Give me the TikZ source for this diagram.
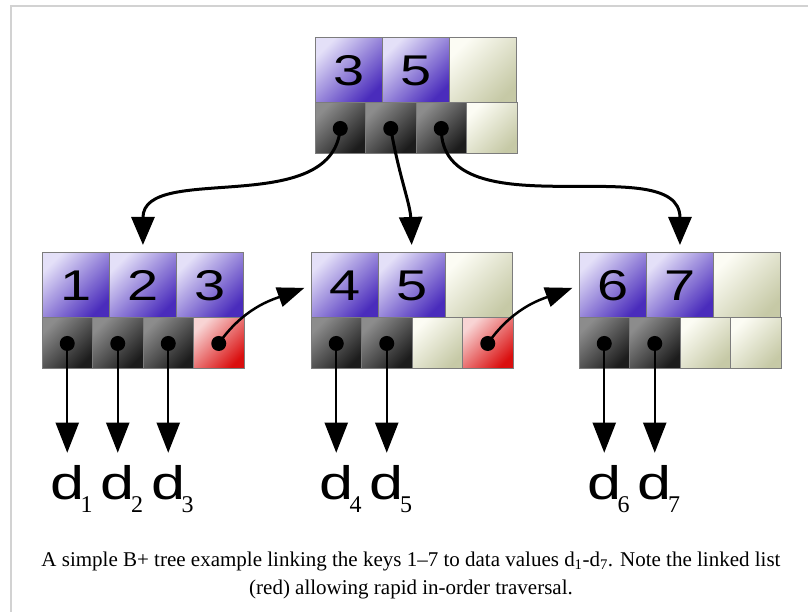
\documentclass[tikz,border=0pt]{standalone}
\usepackage{fontspec}
\setmainfont{Liberation Serif}
\setsansfont{Liberation Sans}
\usepackage{graphicx}
\usepackage{tikz}
\usetikzlibrary{arrows.meta, positioning, calc}

\definecolor{keylight}{HTML}{E4E0F8}
\definecolor{keydark}{HTML}{4A2CBC}
\definecolor{ptrlight}{HTML}{8C8C8C}
\definecolor{ptrdark}{HTML}{1C1C1C}
\definecolor{freelight}{HTML}{FCFCF4}
\definecolor{freedark}{HTML}{C6C9A6}
\definecolor{linklight}{HTML}{F8D4D4}
\definecolor{linkdark}{HTML}{DA0E0E}
\definecolor{cellline}{HTML}{7C7C7C}
\definecolor{framegray}{HTML}{D2D2D2}

\newcommand{\widen}[1]{\scalebox{1.3}[1]{#1}}

\tikzset{
  cell/.style={draw=cellline, line width=1pt, inner sep=0pt, outer sep=0pt},
  keysize/.style={minimum width=67.3pt, minimum height=65pt},
  ptrsize/.style={minimum width=50.5pt, minimum height=51pt},
  keycell/.style={cell, keysize, top color=keylight, bottom color=keydark, shading angle=45,
    font=\sffamily\fontsize{43}{43}\selectfont},
  ptrcell/.style={cell, ptrsize, top color=ptrlight, bottom color=ptrdark, shading angle=45,
    path picture={\fill[black] (path picture bounding box.center) circle (7.5pt);}},
  linkcell/.style={cell, ptrsize, top color=linklight, bottom color=linkdark, shading angle=45,
    path picture={\fill[black] (path picture bounding box.center) circle (7.5pt);}},
  freekey/.style={cell, keysize, top color=freelight, bottom color=freedark, shading angle=45},
  freeptr/.style={cell, ptrsize, top color=freelight, bottom color=freedark, shading angle=45},
  dlabel/.style={inner sep=0pt, anchor=base, font=\sffamily\fontsize{47}{47}\selectfont},
  dsub/.style={inner sep=0pt, anchor=base west, font=\rmfamily\fontsize{24}{24}\selectfont},
  treearrow/.style={-{Triangle[length=28pt, width=23pt]}, line width=3pt, shorten >=8pt},
  leafarrow/.style={-{Triangle[length=30pt, width=23pt]}, line width=2pt, shorten >=13pt},
  linkarrow/.style={-{Triangle[length=27pt, width=20pt]}, line width=2.5pt, shorten >=7pt},
}

\begin{document}
\begin{tikzpicture}[x=1pt, y=1pt]
    \useasboundingbox (0,0) rectangle (808,612);
    \draw[framegray, line width=2pt] (11,0) -- (11,606) -- (808,606);

    % root
    \node[keycell, anchor=north west] (rk1) at (315,574) {\widen{3}};
    \node[keycell, right=0pt of rk1] (rk2) {\widen{5}};
    \node[freekey, right=0pt of rk2] (rk3) {};
    \node[ptrcell, anchor=north west] (rp1) at (rk1.south west) {};
    \node[ptrcell, right=0pt of rp1] (rp2) {};
    \node[ptrcell, right=0pt of rp2] (rp3) {};
    \node[freeptr, right=0pt of rp3] (rp4) {};

    % leaf 1
    \node[keycell, anchor=north west] (l1k1) at (42,359) {\widen{1}};
    \node[keycell, right=0pt of l1k1] (l1k2) {\widen{2}};
    \node[keycell, right=0pt of l1k2] (l1k3) {\widen{3}};
    \node[ptrcell, anchor=north west] (l1p1) at (l1k1.south west) {};
    \node[ptrcell, right=0pt of l1p1] (l1p2) {};
    \node[ptrcell, right=0pt of l1p2] (l1p3) {};
    \node[linkcell, right=0pt of l1p3] (l1p4) {};

    % leaf 2
    \node[keycell, anchor=north west] (l2k1) at (311,359) {\widen{4}};
    \node[keycell, right=0pt of l2k1] (l2k2) {\widen{5}};
    \node[freekey, right=0pt of l2k2] (l2k3) {};
    \node[ptrcell, anchor=north west] (l2p1) at (l2k1.south west) {};
    \node[ptrcell, right=0pt of l2p1] (l2p2) {};
    \node[freeptr, right=0pt of l2p2] (l2p3) {};
    \node[linkcell, right=0pt of l2p3] (l2p4) {};

    % leaf 3
    \node[keycell, anchor=north west] (l3k1) at (579,359) {\widen{6}};
    \node[keycell, right=0pt of l3k1] (l3k2) {\widen{7}};
    \node[freekey, right=0pt of l3k2] (l3k3) {};
    \node[ptrcell, anchor=north west] (l3p1) at (l3k1.south west) {};
    \node[ptrcell, right=0pt of l3p1] (l3p2) {};
    \node[freeptr, right=0pt of l3p2] (l3p3) {};
    \node[freeptr, right=0pt of l3p3] (l3p4) {};

    % data values
    \coordinate (dline) at (0,112);
    \node[dlabel] (d1) at (l1p1 |- dline) {\widen{d}};
    \node[dlabel] (d2) at (l1p2 |- dline) {\widen{d}};
    \node[dlabel] (d3) at (l1p3 |- dline) {\widen{d}};
    \node[dlabel] (d4) at (l2p1 |- dline) {\widen{d}};
    \node[dlabel] (d5) at (l2p2 |- dline) {\widen{d}};
    \node[dlabel] (d6) at (l3p1 |- dline) {\widen{d}};
    \node[dlabel] (d7) at (l3p2 |- dline) {\widen{d}};
    \node[dsub] (s1) at ($(d1.base east)+(-4,-13)$) {1};
    \node[dsub] (s2) at ($(d2.base east)+(-4,-13)$) {2};
    \node[dsub] (s3) at ($(d3.base east)+(-4,-13)$) {3};
    \node[dsub] (s4) at ($(d4.base east)+(-4,-13)$) {4};
    \node[dsub] (s5) at ($(d5.base east)+(-4,-13)$) {5};
    \node[dsub] (s6) at ($(d6.base east)+(-4,-13)$) {6};
    \node[dsub] (s7) at ($(d7.base east)+(-4,-13)$) {7};

    % root to leaves
    \draw[treearrow] (rp1.center) to[out=-95, in=90] (l1k2.north);
    \draw[treearrow] (rp2.center) to[out=-80, in=92] (l2k2.north);
    \draw[treearrow] (rp3.center) to[out=-90, in=90] (l3k2.north);

    % leaves to data
    \draw[leafarrow] (l1p1.center) -- (d1);
    \draw[leafarrow] (l1p2.center) -- (d2);
    \draw[leafarrow] (l1p3.center) -- (d3);
    \draw[leafarrow] (l2p1.center) -- (d4);
    \draw[leafarrow] (l2p2.center) -- (d5);
    \draw[leafarrow] (l3p1.center) -- (d6);
    \draw[leafarrow] (l3p2.center) -- (d7);

    % linked list
    \draw[linkarrow] (l1p4.center) to[out=55, in=200] (l2k1.west);
    \draw[linkarrow] (l2p4.center) to[out=55, in=200] (l3k1.west);

    \node[align=center, font=\fontsize{21}{28}\selectfont] (cap) at (411,37)
      {A simple B+ tree example linking the keys 1--7 to data values d\textsubscript{1}-d\textsubscript{7}. Note the linked list\\(red) allowing rapid in-order traversal.};
\end{tikzpicture}
\end{document}
